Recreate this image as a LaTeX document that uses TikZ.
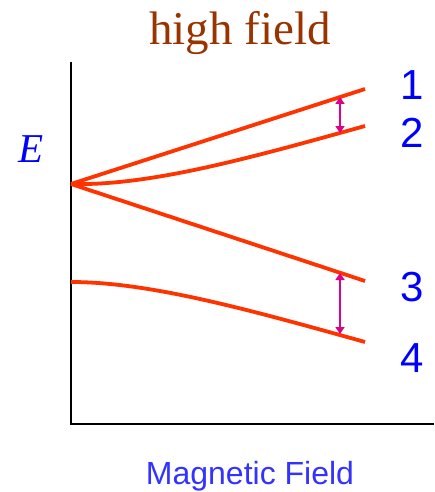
\documentclass[tikz,border=0pt]{standalone}
\usepackage{fontspec}
\setmainfont{Liberation Serif}
\setsansfont{Liberation Sans}
\usetikzlibrary{arrows.meta}
\definecolor{levelred}{HTML}{FF3300}
\definecolor{splitmag}{HTML}{DD0088}
\definecolor{labblue}{HTML}{0000FF}
\definecolor{axblue}{HTML}{3333FF}
\definecolor{titlebrown}{HTML}{993300}
\begin{document}
\begin{tikzpicture}[x=1pt,y=-1pt,
  level/.style={draw=levelred,line width=3.8pt},
  split/.style={draw=splitmag,line width=2.2pt,{Triangle[length=7pt,width=9pt]}-{Triangle[length=7pt,width=9pt]}},
  lab/.style={text=labblue,font=\sffamily\fontsize{42}{42}\selectfont,inner sep=0pt},
  axis/.style={draw=black,line width=1.4pt}]
\useasboundingbox (0,0) rectangle (434,492);
% axes
\coordinate (top) at (71,62);
\coordinate (orig) at (71,424);
\coordinate (xend) at (434,424);
\draw[axis] (top) -- (orig) -- (xend);
% levels
\coordinate (O) at (71,184);
\coordinate (e1) at (365,89);
\coordinate (e2) at (365,126);
\coordinate (e3) at (365,281);
\coordinate (s4) at (71,282);
\coordinate (e4) at (365,342);
\draw[level] (O) -- (e1);
\draw[level] (O) .. controls (150,186) and (250,158) .. (e2);
\draw[level] (O) -- (e3);
\draw[level] (s4) .. controls (150,282) and (250,310) .. (e4);
% splittings
\coordinate (a1) at (340,97);
\coordinate (a2) at (340,133);
\coordinate (b1) at (340,273);
\coordinate (b2) at (340,334);
\draw[split] (a1) -- (a2);
\draw[split] (b1) -- (b2);
% labels
\node[lab] (l1) at (412,85) {1};
\node[lab] (l2) at (412,133) {2};
\node[lab] (l3) at (412,287) {3};
\node[lab] (l4) at (412,358) {4};
\node[text=labblue,font=\fontsize{41}{41}\selectfont\itshape,anchor=base,inner sep=0pt] (E) at (31,162) {E};
\node[text=titlebrown,font=\fontsize{47}{47}\selectfont,anchor=base,inner sep=0pt] (title) at (240,45) {high field};
\node[text=axblue,font=\sffamily\fontsize{32}{32}\selectfont,anchor=base,inner sep=0pt] (xlab) at (250,484) {Magnetic Field};
\end{tikzpicture}
\end{document}
